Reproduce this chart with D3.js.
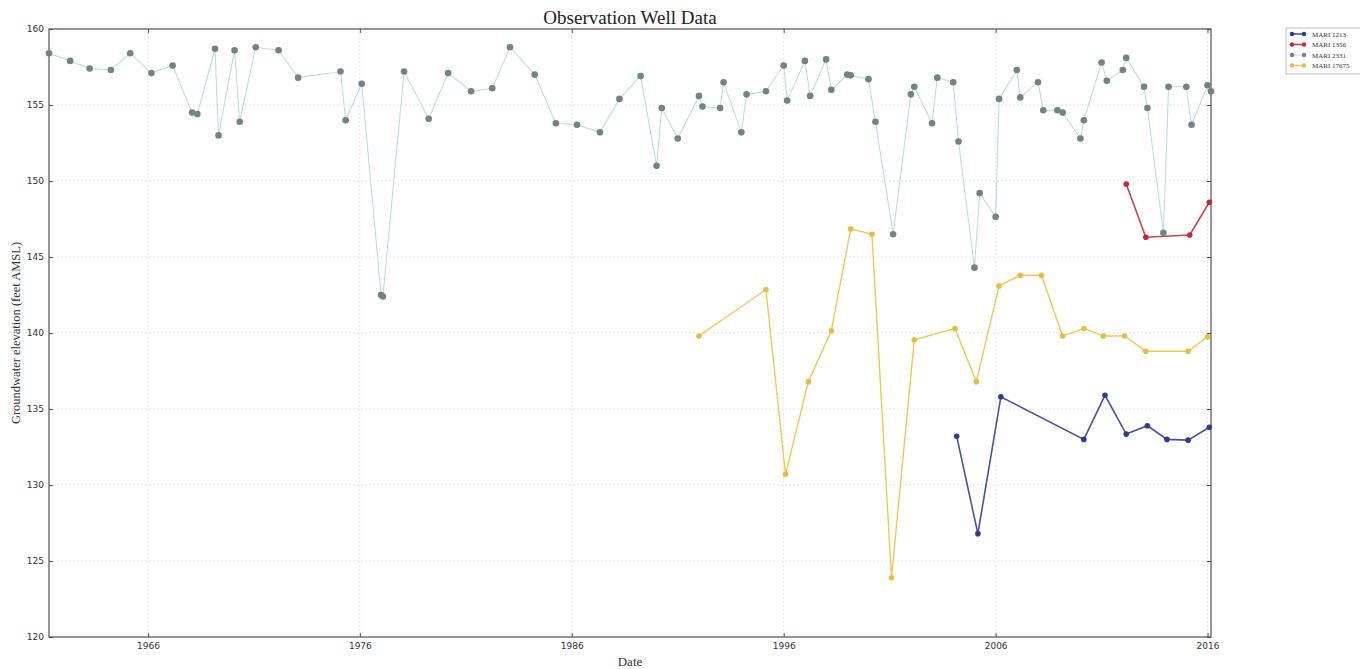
<!DOCTYPE html>
<html>
<head>
<meta charset="utf-8">
<script src="https://cdn.jsdelivr.net/npm/d3@7"></script>
<style>
  body { margin: 0; background: #fff; }
  svg { display: block; }
  .tick text { font-family: "DejaVu Sans", sans-serif; font-size: 9px; fill: #333; }
</style>
</head>
<body>
<svg id="chart"></svg>
<script>
// well names
const wellNames = ["MARI 1213", "MARI 1356", "MARI 2331", "MARI 17675"];

// MARI 2331 (long record)
const dates2331 = ["1961-05","1962-05","1963-04","1964-04","1965-03","1966-03","1967-03","1968-02","1968-05","1969-03",
  "1969-05","1970-02","1970-05","1971-02","1972-03","1973-02","1975-02","1975-05","1976-02","1977-01",
  "1977-02","1978-02","1979-04","1980-03","1981-04","1982-04","1983-02","1984-04","1985-04","1986-04",
  "1987-05","1988-04","1989-04","1990-01","1990-04","1991-01","1992-01","1992-03","1993-01","1993-03",
  "1994-01","1994-04","1995-03","1996-01","1996-03","1997-01","1997-04","1998-01","1998-04","1999-01",
  "1999-03","2000-01","2000-05","2001-03","2002-01","2002-03","2003-01","2003-04","2004-01","2004-04",
  "2005-01","2005-04","2006-01","2006-03","2007-01","2007-03","2008-01","2008-04","2008-12","2009-03",
  "2010-01","2010-03","2011-01","2011-04","2012-01","2012-03","2013-01","2013-03","2013-12","2014-03",
  "2015-01","2015-04","2016-01","2016-03"];
const values2331 = [158.4,157.9,157.4,157.3,158.4,157.1,157.6,154.5,154.4,158.7,
  153.0,158.6,153.9,158.8,158.6,156.8,157.2,154.0,156.4,142.5,
  142.4,157.2,154.1,157.1,155.9,156.1,158.8,157.0,153.8,153.7,
  153.2,155.4,156.9,151.0,154.8,152.8,155.6,154.9,154.8,156.5,
  153.2,155.7,155.9,157.6,155.3,157.9,155.6,158.0,156.0,157.0,
  156.95,156.7,153.9,146.5,155.7,156.2,153.8,156.8,156.5,152.6,
  144.3,149.2,147.65,155.4,157.3,155.5,156.5,154.65,154.65,154.5,
  152.8,154.0,157.8,156.6,157.3,158.1,156.2,154.8,146.6,156.2,
  156.2,153.7,156.3,155.9];

// MARI 17675
const dates17675 = ["1992-01","1995-03","1996-02","1997-03","1998-04","1999-03","2000-03","2001-02","2002-03","2004-02",
  "2005-02","2006-03","2007-03","2008-03","2009-03","2010-03","2011-02","2012-02","2013-02","2015-02","2016-01"];
const values17675 = [139.8,142.85,130.7,136.8,140.15,146.85,146.5,123.9,139.55,140.3,
  136.8,143.1,143.8,143.8,139.8,140.3,139.8,139.8,138.8,138.8,139.75];

// MARI 1213
const dates1213 = ["2004-03","2005-03","2006-04","2010-03","2011-03","2012-03","2013-03","2014-02","2015-02","2016-02"];
const values1213 = [133.2,126.8,135.8,133.0,135.9,133.35,133.9,133.0,132.95,133.8];

// MARI 1356
const dates1356 = ["2012-03","2013-02","2015-03","2016-02"];
const values1356 = [149.8,146.3,146.45,148.6];

const yTicks = [120, 125, 130, 135, 140, 145, 150, 155, 160];
const xTickYears = [1966, 1976, 1986, 1996, 2006, 2016];

const parse = d3.timeParse("%Y-%m");
const build = (ds, vs) => ds.map((d, i) => ({ date: parse(d), value: vs[i] }));

const series = [
  { name: wellNames[2], data: build(dates2331, values2331), line: "#bcdde0", lineW: 1.1, marker: "#728380", r: 3.3 },
  { name: wellNames[3], data: build(dates17675, values17675), line: "#f3c650", lineW: 1.4, marker: "#e9bd3c", r: 2.8 },
  { name: wellNames[0], data: build(dates1213, values1213), line: "#4652a5", lineW: 1.6, marker: "#2f3b8f", r: 2.8 },
  { name: wellNames[1], data: build(dates1356, values1356), line: "#d0414a", lineW: 1.6, marker: "#c0283a", r: 2.8 }
];

const width = 1360, height = 669;
const margin = { left: 49, right: 149, top: 29, bottom: 32 };

const svg = d3.select("#chart").attr("width", width).attr("height", height);

const allDates = series.flatMap(s => s.data.map(d => d.date));
const x = d3.scaleTime()
  .domain(d3.extent(allDates))
  .range([margin.left, width - margin.right]);

const y = d3.scaleLinear()
  .domain([120, 160])
  .range([height - margin.bottom, margin.top]);

const plotW = width - margin.left - margin.right;
const plotH = height - margin.top - margin.bottom;
const xTicks = xTickYears.map(yr => new Date(yr, 0, 1));

// grid lines
svg.append("g")
  .selectAll("line")
  .data(yTicks)
  .enter()
  .append("line")
  .attr("x1", margin.left)
  .attr("x2", width - margin.right)
  .attr("y1", d => y(d))
  .attr("y2", d => y(d))
  .style("stroke", "#e2e6ee")
  .style("stroke-dasharray", "2,2");

svg.append("g")
  .selectAll("line")
  .data(xTicks)
  .enter()
  .append("line")
  .attr("x1", d => x(d))
  .attr("x2", d => x(d))
  .attr("y1", margin.top)
  .attr("y2", height - margin.bottom)
  .style("stroke", "#e2e6ee")
  .style("stroke-dasharray", "2,2");

// axes
const xAxis = svg.append("g")
  .attr("transform", `translate(0,${height - margin.bottom})`)
  .call(d3.axisBottom(x).tickValues(xTicks).tickFormat(d3.timeFormat("%Y")).tickSizeInner(-4).tickSizeOuter(0).tickPadding(6));
xAxis.select(".domain").remove();

const yAxis = svg.append("g")
  .attr("transform", `translate(${margin.left},0)`)
  .call(d3.axisLeft(y).tickValues(yTicks).tickSizeInner(-4).tickSizeOuter(0).tickPadding(5));
yAxis.select(".domain").remove();

// right and top inner ticks
svg.append("g")
  .attr("transform", `translate(${width - margin.right},0)`)
  .call(d3.axisRight(y).tickValues(yTicks).tickSizeInner(-4).tickSizeOuter(0).tickFormat(""))
  .select(".domain").remove();
svg.append("g")
  .attr("transform", `translate(0,${margin.top})`)
  .call(d3.axisTop(x).tickValues(xTicks).tickSizeInner(-4).tickSizeOuter(0).tickFormat(""))
  .select(".domain").remove();

svg.selectAll(".tick line").style("stroke", "#5a4b5c");

// frame
svg.append("rect")
  .attr("x", margin.left)
  .attr("y", margin.top)
  .attr("width", plotW)
  .attr("height", plotH)
  .style("fill", "none")
  .style("stroke", "#5a4b5c")
  .style("stroke-width", 1.2);

// lines and markers
const line = d3.line()
  .x(d => x(d.date))
  .y(d => y(d.value));

const plot = svg.append("g");
series.forEach(s => {
  plot.append("path")
    .datum(s.data)
    .attr("d", line)
    .style("fill", "none")
    .style("stroke", s.line)
    .style("stroke-width", s.lineW);
  plot.append("g")
    .selectAll("circle")
    .data(s.data)
    .enter()
    .append("circle")
    .attr("cx", d => x(d.date))
    .attr("cy", d => y(d.value))
    .attr("r", s.r)
    .style("fill", s.marker);
});

// title and labels
svg.append("text")
  .attr("x", margin.left + plotW / 2)
  .attr("y", 24)
  .style("font-family", "'Liberation Serif', serif")
  .style("font-size", "19px")
  .style("fill", "#222")
  .style("text-anchor", "middle")
  .text("Observation Well Data");

svg.append("text")
  .attr("x", margin.left + plotW / 2)
  .attr("y", 666)
  .style("font-family", "'Liberation Serif', serif")
  .style("font-size", "13px")
  .style("fill", "#333")
  .style("text-anchor", "middle")
  .text("Date");

svg.append("text")
  .attr("transform", `translate(20,${margin.top + plotH / 2}) rotate(-90)`)
  .style("font-family", "'Liberation Serif', serif")
  .style("font-size", "12.5px")
  .style("fill", "#333")
  .style("text-anchor", "middle")
  .text("Groundwater elevation (feet AMSL)");

// legend
const legendOrder = [series[2], series[3], series[0], series[1]];
const legend = svg.append("g").attr("transform", "translate(1286,28)");
legend.append("rect")
  .attr("width", 78)
  .attr("height", 46)
  .style("fill", "#fff")
  .style("stroke", "#aaa")
  .style("stroke-width", 0.8);

const items = legend.selectAll(".legend-item")
  .data(legendOrder)
  .enter()
  .append("g")
  .attr("class", "legend-item")
  .attr("transform", (d, i) => `translate(4,${6 + i * 10.5})`);

items.append("line")
  .attr("x1", 0)
  .attr("x2", 16)
  .style("stroke", d => d.line)
  .style("stroke-width", d => d.lineW);
items.append("circle").attr("cx", 2).attr("r", 2.2).style("fill", d => d.marker);
items.append("circle").attr("cx", 14).attr("r", 2.2).style("fill", d => d.marker);
items.append("text")
  .attr("x", 22)
  .attr("y", 2.5)
  .style("font-family", "'Liberation Serif', serif")
  .style("font-size", "7px")
  .style("fill", "#333")
  .text(d => d.name);
</script>
</body>
</html>
